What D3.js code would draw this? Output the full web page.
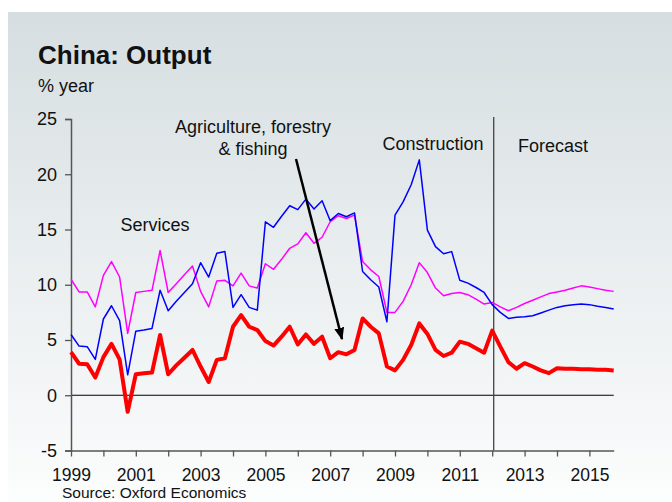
<!DOCTYPE html>
<html><head><meta charset="utf-8">
<script src="https://cdn.jsdelivr.net/npm/d3@7"></script>
<style>
html,body{margin:0;padding:0;background:#fff;}
svg text{font-family:"Liberation Sans",Arial,sans-serif;fill:#111;}
</style></head>
<body><svg id="c" width="672" height="502"></svg>
<script>
const years = d3.range(1999, 2016);
const quarterNames = ["Q1","Q2","Q3","Q4"];
const categories = years.flatMap(y => quarterNames.map(q => y + q));
const xTickYears = [1999,2001,2003,2005,2007,2009,2011,2013,2015];
const yTicks = [-5,0,5,10,15,20,25];
const forecastStart = "2012Q1";

const services = [10.5,9.35,9.35,8.0,10.85,12.1,10.7,5.6,9.3,9.4,9.5,13.1,9.3,10.1,10.9,11.7,9.4,8.0,10.35,10.4,9.9,11.05,9.9,9.7,11.9,11.4,12.3,13.3,13.7,14.7,13.75,14.3,15.7,16.25,16.0,16.3,12.1,11.35,10.75,7.5,7.5,8.5,10.0,12.0,11.1,9.7,9.0,9.2,9.3,9.1,8.7,8.25,8.4,8.0,7.65,7.95,8.3,8.6,8.9,9.2,9.35,9.5,9.7,9.9,9.8,9.65,9.5,9.4];
const construction = [5.5,4.45,4.4,3.25,6.9,8.1,6.75,1.85,5.8,5.9,6.05,9.5,7.65,8.5,9.3,10.1,12.0,10.7,12.85,13.0,7.95,9.1,7.95,7.7,15.7,15.2,16.2,17.15,16.8,17.75,16.85,17.6,15.8,16.45,16.15,16.5,11.2,10.45,9.8,6.65,16.3,17.5,19.05,21.3,14.95,13.45,12.8,13.0,10.4,10.15,9.75,9.3,8.2,7.5,6.95,7.05,7.1,7.2,7.45,7.7,7.95,8.1,8.2,8.25,8.2,8.05,7.95,7.8];
const agriculture = [3.9,2.85,2.8,1.6,3.45,4.65,3.25,-1.5,1.9,2.0,2.05,5.45,1.9,2.7,3.4,4.1,2.6,1.2,3.2,3.35,6.2,7.25,6.2,5.9,4.9,4.5,5.3,6.2,4.6,5.5,4.65,5.3,3.35,3.9,3.7,4.1,6.95,6.2,5.6,2.6,2.25,3.2,4.55,6.5,5.55,4.1,3.55,3.85,4.85,4.65,4.25,3.85,5.85,4.4,3.0,2.4,2.9,2.6,2.25,2.0,2.45,2.4,2.4,2.35,2.35,2.3,2.3,2.25];

const seriesList = [
  {name:"Services", values:services, color:"#ff00ff", width:1.5},
  {name:"Construction", values:construction, color:"#0000ff", width:1.5},
  {name:"Agriculture", values:agriculture, color:"#ff0000", width:4}
];

const svg = d3.select("#c");
const defs = svg.append("defs");
const grad = defs.append("linearGradient").attr("id","bg").attr("x1",0).attr("y1",0).attr("x2",0).attr("y2",1);
grad.append("stop").attr("offset","0%").attr("stop-color","#d6dee1");
grad.append("stop").attr("offset","100%").attr("stop-color","#fcfdfd");
defs.append("marker").attr("id","arr").attr("viewBox","0 0 10 10").attr("refX",9).attr("refY",5)
  .attr("markerWidth",5).attr("markerHeight",5).attr("orient","auto")
  .append("path").attr("d","M0,1 L10,5 L0,9 Z").attr("fill","#000");

svg.append("rect").attr("x",8).attr("y",12).attr("width",664).attr("height",490).attr("fill","url(#bg)");

const x = d3.scalePoint().domain(categories).range([71, 613.7]);
const y = d3.scaleLinear().domain([-5,25]).range([450.5, 119]);

// title
svg.append("text").attr("x",38).attr("y",64).attr("font-size",26).attr("font-weight","bold").text("China: Output");
svg.append("text").attr("x",38).attr("y",92).attr("font-size",18).text("% year");

// zero line
svg.append("line").attr("x1",x(categories[0])).attr("x2",x(categories[categories.length-1]))
  .attr("y1",y(0)).attr("y2",y(0)).attr("stroke","#000").attr("stroke-width",1.2);

// forecast line
svg.append("line").attr("x1",x(forecastStart)+1.5).attr("x2",x(forecastStart)+1.5)
  .attr("y1",117).attr("y2",y(-5)).attr("stroke","#444").attr("stroke-width",1.3);

// y axis
const yAxis = svg.append("g").attr("transform",`translate(${x(categories[0])},0)`)
  .call(d3.axisLeft(y).tickValues(yTicks).tickSize(6).tickPadding(8).tickFormat(d => String(d)));
yAxis.select(".domain").attr("stroke","#555").attr("stroke-width",1.5);
yAxis.selectAll(".tick line").attr("stroke","#555").attr("stroke-width",1.3);
yAxis.selectAll("text").attr("font-size",18).attr("font-family","Liberation Sans, Arial, sans-serif").attr("fill","#111");

// x axis
const xTickCats = years.map(yy => yy + "Q1");
const xAxis = svg.append("g").attr("transform",`translate(0,${y(-5)})`)
  .call(d3.axisBottom(x).tickValues(xTickCats).tickSize(6).tickSizeOuter(0).tickPadding(12)
    .tickFormat(c => xTickYears.includes(+c.slice(0,4)) ? c.slice(0,4) : ""));
xAxis.select(".domain").attr("stroke","#555").attr("stroke-width",1.5);
xAxis.selectAll(".tick line").attr("stroke","#555").attr("stroke-width",1.3);
xAxis.selectAll("text").attr("font-size",17.5).attr("font-family","Liberation Sans, Arial, sans-serif").attr("fill","#111");

// lines
const line = d3.line().x((d,i) => x(categories[i])).y(d => y(d));
seriesList.forEach(s => {
  svg.append("path").datum(s.values).attr("d", line).attr("fill","none")
    .attr("stroke", s.color).attr("stroke-width", s.width).attr("stroke-linejoin","round");
});

// annotations
svg.append("text").attr("x",155).attr("y",231).attr("font-size",18).attr("text-anchor","middle").text("Services");
svg.append("text").attr("x",253).attr("y",133).attr("font-size",18).attr("text-anchor","middle").text("Agriculture, forestry");
svg.append("text").attr("x",253).attr("y",155).attr("font-size",18).attr("text-anchor","middle").text("& fishing");
svg.append("text").attr("x",433).attr("y",150).attr("font-size",18).attr("text-anchor","middle").text("Construction");
svg.append("text").attr("x",553).attr("y",152).attr("font-size",18).attr("text-anchor","middle").text("Forecast");
svg.append("line").attr("x1",296).attr("y1",159).attr("x2",342).attr("y2",339)
  .attr("stroke","#000").attr("stroke-width",2.5).attr("marker-end","url(#arr)");

svg.append("text").attr("x",62).attr("y",498).attr("font-size",15.5).text("Source: Oxford Economics");
</script></body></html>
